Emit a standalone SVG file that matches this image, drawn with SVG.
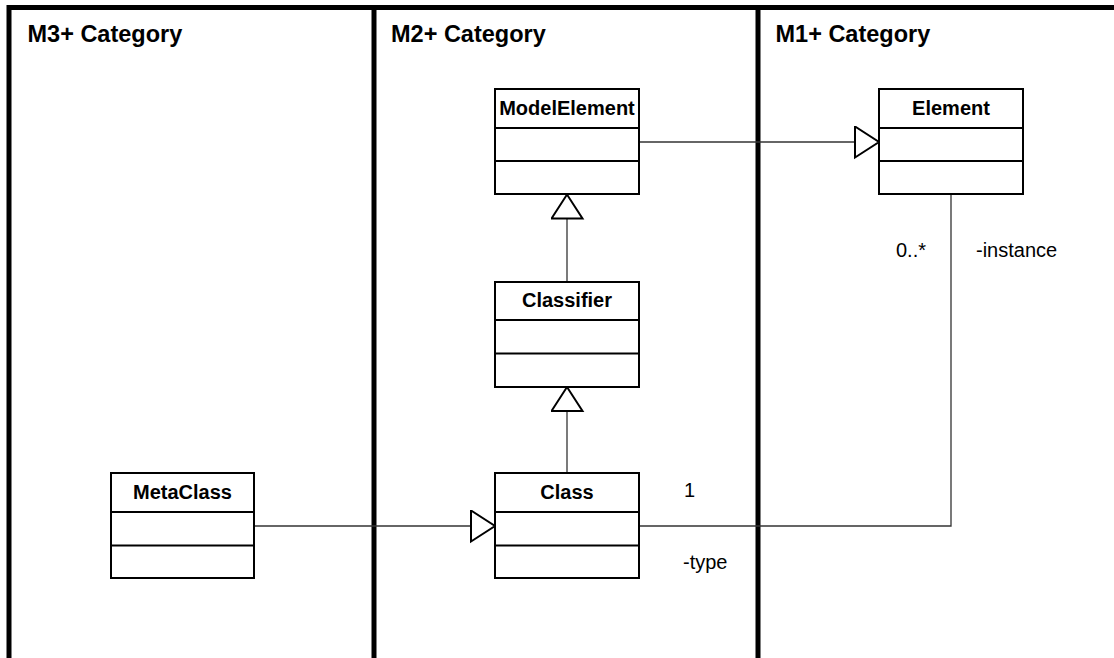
<svg xmlns="http://www.w3.org/2000/svg" width="1114" height="658" viewBox="0 0 1114 658">
  <style>
    .frame { fill: none; stroke: #000; stroke-width: 5; }
    .box { fill: #fff; stroke: #000; stroke-width: 2; }
    .sep { stroke: #000; stroke-width: 2; }
    .title { font-family: "Liberation Sans", Arial, sans-serif; font-weight: bold; font-size: 20px; text-anchor: middle; fill: #000; }
    .head { font-family: "Liberation Sans", Arial, sans-serif; font-weight: bold; font-size: 23.5px; fill: #000; }
    .lbl { font-family: "Liberation Sans", Arial, sans-serif; font-size: 20px; fill: #000; }
    .conn { fill: none; stroke: #333; stroke-width: 1.3; }
  </style>
  <defs>
    <!-- hollow generalization arrowhead -->
    <marker id="gen" markerUnits="userSpaceOnUse" markerWidth="28" markerHeight="36" refX="25" refY="16.5" orient="auto" viewBox="0 0 28 36">
      <path d="M1,1 L25,16.5 L1,32 Z" fill="#fff" stroke="#000" stroke-width="2" stroke-linejoin="miter"/>
    </marker>
  </defs>
  <rect width="1114" height="658" fill="#fff"/>

  <!-- swimlane frame -->
  <g id="frame">
    <path class="frame" d="M9,660 V7.5 H1116"/>
    <line class="frame" x1="374" y1="7.5" x2="374" y2="660"/>
    <line class="frame" x1="758" y1="7.5" x2="758" y2="660"/>
    <text class="head" x="27.5" y="42">M3+ Category</text>
    <text class="head" x="391" y="42">M2+ Category</text>
    <text class="head" x="775.5" y="42">M1+ Category</text>
  </g>

  <!-- connectors -->
  <g id="connectors">
    <line class="conn" x1="639" y1="142" x2="879" y2="142" marker-end="url(#gen)"/>
    <line class="conn" x1="567" y1="282" x2="567" y2="194.5" marker-end="url(#gen)"/>
    <line class="conn" x1="567" y1="473" x2="567" y2="387" marker-end="url(#gen)"/>
    <line class="conn" x1="254" y1="526" x2="495" y2="526" marker-end="url(#gen)"/>
    <path class="conn" d="M639,526 H951 V194"/>
    <text class="lbl" x="684" y="497">1</text>
    <text class="lbl" x="683" y="569">-type</text>
    <text class="lbl" x="896" y="257">0..*</text>
    <text class="lbl" x="976" y="257">-instance</text>
  </g>

  <g id="ModelElement">
    <rect class="box" x="495" y="89" width="144" height="105"/>
    <line class="sep" x1="495" y1="128" x2="639" y2="128"/>
    <line class="sep" x1="495" y1="161" x2="639" y2="161"/>
    <text class="title" x="567" y="115">ModelElement</text>
  </g>

  <g id="Classifier">
    <rect class="box" x="495" y="282" width="144" height="105"/>
    <line class="sep" x1="495" y1="320" x2="639" y2="320"/>
    <line class="sep" x1="495" y1="353.5" x2="639" y2="353.5"/>
    <text class="title" x="567" y="307">Classifier</text>
  </g>

  <g id="Class">
    <rect class="box" x="495" y="473" width="144" height="105"/>
    <line class="sep" x1="495" y1="512" x2="639" y2="512"/>
    <line class="sep" x1="495" y1="545.5" x2="639" y2="545.5"/>
    <text class="title" x="567" y="499">Class</text>
  </g>

  <g id="MetaClass">
    <rect class="box" x="111" y="473" width="143" height="105"/>
    <line class="sep" x1="111" y1="512" x2="254" y2="512"/>
    <line class="sep" x1="111" y1="545.5" x2="254" y2="545.5"/>
    <text class="title" x="182.5" y="499">MetaClass</text>
  </g>

  <g id="Element">
    <rect class="box" x="879" y="89" width="144" height="105"/>
    <line class="sep" x1="879" y1="128" x2="1023" y2="128"/>
    <line class="sep" x1="879" y1="161" x2="1023" y2="161"/>
    <text class="title" x="951" y="115">Element</text>
  </g>
</svg>
